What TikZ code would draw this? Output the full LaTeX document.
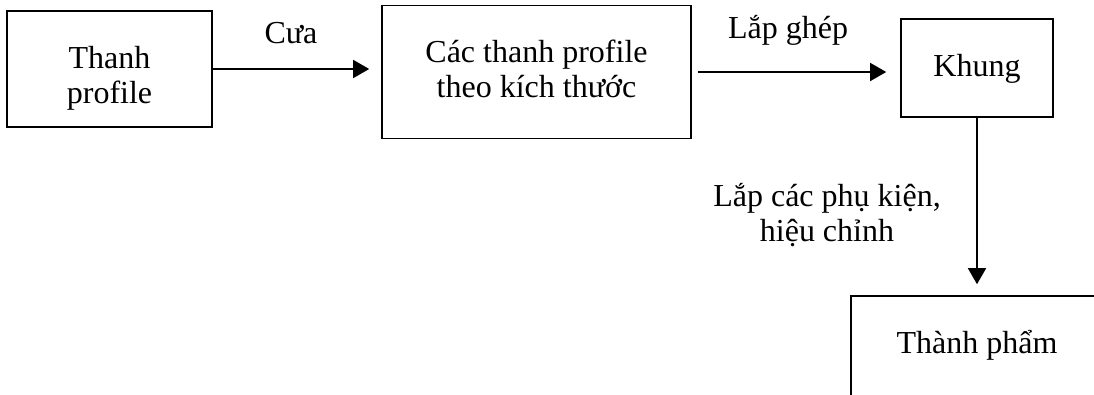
\documentclass[tikz,border=0pt]{standalone}
\usepackage{fontspec}
\setmainfont{Liberation Serif}
\usetikzlibrary{arrows.meta,positioning}

\begin{document}
\begin{tikzpicture}[x=1pt, y=-1pt,
    stage/.style={rectangle, draw=black, line width=1.6pt, font=\fontsize{32}{35}\selectfont, align=center, inner sep=0pt},
    flowlabel/.style={font=\fontsize{32}{35}\selectfont, align=center, inner sep=0pt},
    flow/.style={-{Triangle[length=16pt, width=18pt]}, line width=1.6pt}
  ]
    \clip (0,0) rectangle (1094,394);

    \node[stage, minimum width=205pt, minimum height=116pt, text height=75pt, text depth=7pt] (thanh) at (109.5,69) {Thanh\\profile};
    \node[stage, minimum width=309pt, minimum height=133pt, text height=57pt, text depth=7pt] (cacthanh) at (536.5,72) {Các thanh profile\\theo kích thước};
    \node[stage, minimum width=152pt, minimum height=98pt, text height=20pt, text depth=4pt] (khung) at (977,68) {Khung};
    \node[stage, minimum width=252pt, minimum height=110pt, text height=20pt, text depth=16pt] (thanhpham) at (977,351) {Thành phẩm};

    \node[flowlabel, anchor=base] (cua) at (291,43) {Cưa};
    \node[flowlabel, anchor=base] (lapghep) at (788,38) {Lắp ghép};
    \node[flowlabel, anchor=base] (lapphukien) at (827,241) {Lắp các phụ kiện,\\hiệu chỉnh};

    \draw[flow, shorten >=12pt] (thanh.east) -- (thanh.east -| cacthanh.west);
    \draw[flow, shorten <=6pt, shorten >=14pt] (cacthanh.east) -- (cacthanh.east -| khung.west);
    \draw[flow, shorten >=11pt] (khung.south) -- (khung.south |- thanhpham.north);
  \end{tikzpicture}
\end{document}
